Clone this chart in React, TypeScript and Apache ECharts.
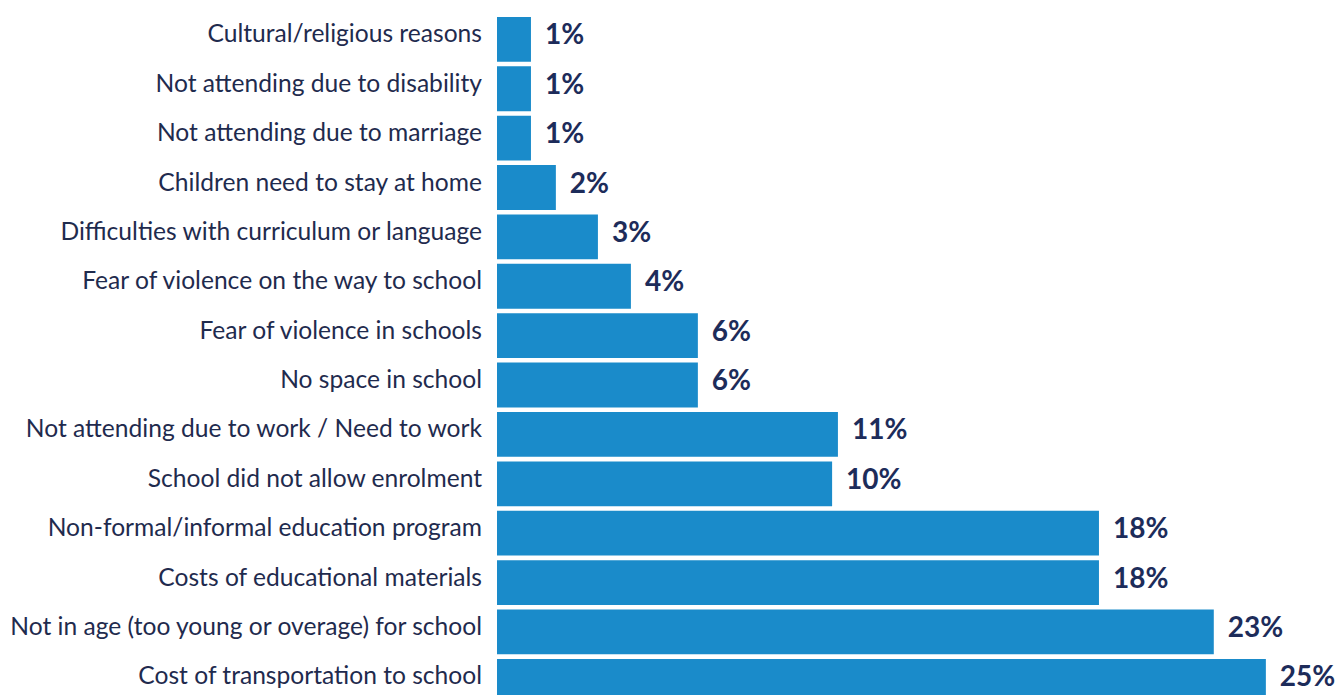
import React, { useEffect, useRef } from "react";
import * as echarts from "echarts";

const categories = [
  "Cultural/religious reasons",
  "Not attending due to disability",
  "Not attending due to marriage",
  "Children need to stay at home",
  "Difficulties with curriculum or language",
  "Fear of violence on the way to school",
  "Fear of violence in schools",
  "No space in school",
  "Not attending due to work / Need to work",
  "School did not allow enrolment",
  "Non-formal/informal education program",
  "Costs of educational materials",
  "Not in age (too young or overage) for school",
  "Cost of transportation to school",
];

// bar lengths as drawn in the picture (percent)
const barValues = [1.05, 1.05, 1.05, 1.82, 3.12, 4.14, 6.21, 6.21, 10.54, 10.36, 18.61, 18.61, 22.16, 23.77];

// printed value labels
const valueLabels = ["1%", "1%", "1%", "2%", "3%", "4%", "6%", "6%", "11%", "10%", "18%", "18%", "23%", "25%"];

export default function App() {
  const ref = useRef<HTMLDivElement>(null);
  useEffect(() => {
    if (!ref.current) return;
    const chart = echarts.init(ref.current, undefined, { renderer: "svg" });
    chart.setOption({
      animation: false,
      grid: { left: 497, right: 3, top: 14.7, bottom: 0, containLabel: false, outerBoundsMode: "none" },
      xAxis: {
        type: "value",
        min: 0,
        max: 26,
        show: false,
      },
      yAxis: {
        type: "category",
        data: categories,
        inverse: true,
        axisLine: { show: false },
        axisTick: { show: false },
        axisLabel: {
          margin: 15,
          fontFamily: "Lato",
          fontSize: 24.6,
          color: "#1f2b4e",
          verticalAlign: "bottom",
          lineHeight: 13,
        },
      },
      series: [
        {
          type: "bar",
          data: barValues,
          barCategoryGap: "9.2%",
          itemStyle: { color: "#1a8bca" },
          label: {
            show: true,
            position: "right",
            distance: 14,
            offset: [0, -6],
            fontFamily: "Lato",
            fontWeight: "bold",
            fontSize: 28,
            color: "#1d2c5a",
            formatter: (p: any) => valueLabels[p.dataIndex],
          },
        },
      ],
    });
    return () => chart.dispose();
  }, []);
  return (
    <div style={{ position: "absolute", left: 0, top: 0, width: 1341, height: 695, overflow: "hidden" }}>
      <div ref={ref} style={{ width: 1341, height: 706 }} />
    </div>
  );
}
